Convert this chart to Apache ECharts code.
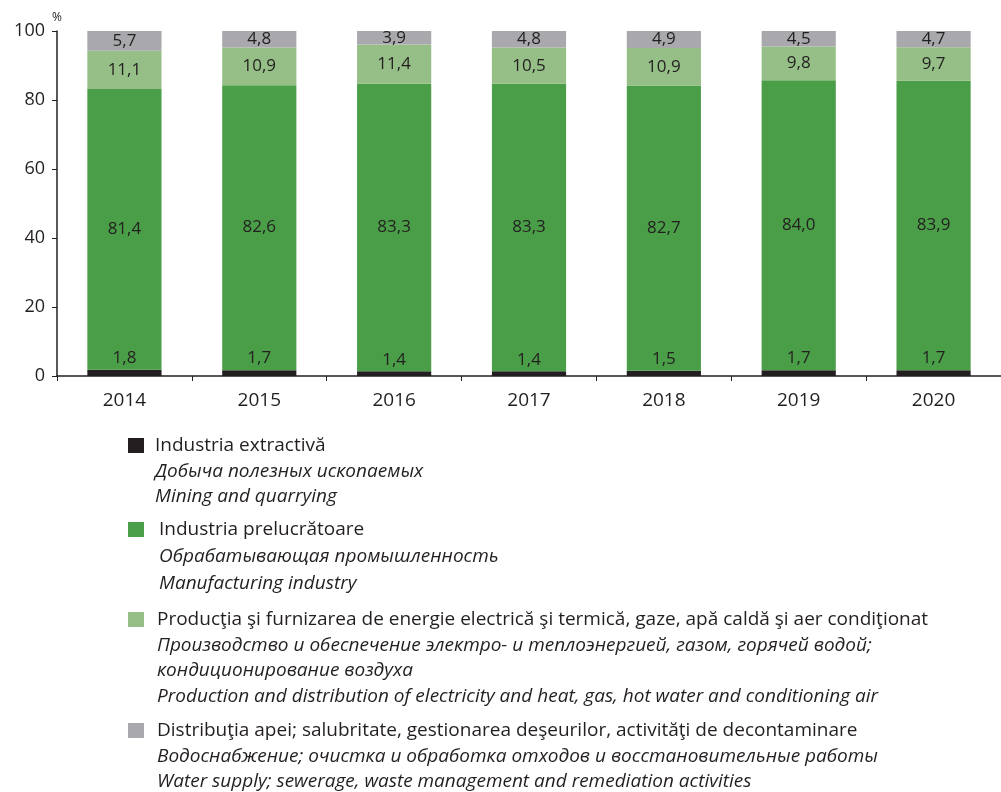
<!DOCTYPE html>
<html>
<head>
<meta charset="utf-8">
<script src="https://cdn.jsdelivr.net/npm/echarts@6/dist/echarts.min.js"></script>
<style>
  html, body { margin: 0; padding: 0; background: #fff; }
  #chart { width: 1001px; height: 792px; }
</style>
</head>
<body>
<div id="chart"></div>
<script>
const years = ['2014', '2015', '2016', '2017', '2018', '2019', '2020'];
const mining = [1.8, 1.7, 1.4, 1.4, 1.5, 1.7, 1.7];
const manufacturing = [81.4, 82.6, 83.3, 83.3, 82.7, 84.0, 83.9];
const energy = [11.1, 10.9, 11.4, 10.5, 10.9, 9.8, 9.7];
const water = [5.7, 4.8, 3.9, 4.8, 4.9, 4.5, 4.7];

const legendLines = [
  ['Industria extractivă', 'Добыча полезных ископаемых', 'Mining and quarrying'],
  ['Industria prelucrătoare', 'Обрабатывающая промышленность', 'Manufacturing industry'],
  ['Producţia şi furnizarea de energie electrică şi termică, gaze, apă caldă şi aer condiţionat',
   'Производство и обеспечение электро- и теплоэнергией, газом, горячей водой;',
   'кондиционирование воздуха',
   'Production and distribution of electricity and heat, gas, hot water and conditioning air'],
  ['Distribuţia apei; salubritate, gestionarea deşeurilor, activităţi de decontaminare',
   'Водоснабжение; очистка и обработка отходов и восстановительные работы',
   'Water supply; sewerage, waste management and remediation activities']
];

const colors = ['#231f20', '#4a9e47', '#95bf86', '#a8a8ad'];
const font = '"Open Sans", "Noto Sans", sans-serif';
const fmt = p => p.value.toFixed(1).replace('.', ',');

const chart = echarts.init(document.getElementById('chart'));

// legend built by hand: square + lines of text
const legendTop = [446, 530, 620, 731];
const legendX = [155, 159, 157, 157];
const lineGap = [25.5, 27, 25.5, 25.5];
const graphic = [];
legendLines.forEach((lines, i) => {
  graphic.push({
    type: 'rect',
    shape: { x: 128, y: legendTop[i] - 8, width: 16, height: 15 },
    style: { fill: colors[i] }
  });
  lines.forEach((t, j) => {
    graphic.push({
      type: 'text',
      x: legendX[i], y: legendTop[i] + j * lineGap[i],
      style: {
        text: t,
        font: (j === 0 ? 'normal ' : 'italic ') + '19px ' + font,
        fill: '#231f20',
        verticalAlign: 'middle'
      }
    });
  });
});
graphic.push({
  type: 'text', x: 52, y: 18,
  style: { text: '%', font: '12px ' + font, fill: '#231f20', verticalAlign: 'middle' }
});

const barLabel = {
  show: true,
  position: 'inside',
  color: '#231f20',
  fontSize: 17,
  fontFamily: font,
  formatter: fmt
};

const option = {
  backgroundColor: '#fff',
  animation: false,
  grid: { left: 57, right: 0, top: 31, bottom: 416 },
  xAxis: {
    type: 'category',
    data: years,
    axisLine: { lineStyle: { color: '#231f20', width: 1.5 } },
    axisTick: { show: true, length: 5, inside: false, lineStyle: { color: '#231f20' } },
    axisLabel: { color: '#231f20', fontSize: 19, fontFamily: font, margin: 15 }
  },
  yAxis: {
    type: 'value',
    min: 0, max: 100, interval: 20,
    splitLine: { show: false },
    axisLine: { show: true, lineStyle: { color: '#231f20', width: 1.5 } },
    axisTick: { show: true, length: 5, lineStyle: { color: '#231f20' } },
    axisLabel: { color: '#231f20', fontSize: 18, fontFamily: font, margin: 12 }
  },
  series: [
    {
      name: legendLines[0][0], type: 'bar', stack: 'a', data: mining,
      barWidth: '55%', itemStyle: { color: colors[0] },
      label: Object.assign({}, barLabel, { position: 'top', distance: 3 })
    },
    {
      name: legendLines[1][0], type: 'bar', stack: 'a', data: manufacturing,
      itemStyle: { color: colors[1] }, label: barLabel
    },
    {
      name: legendLines[2][0], type: 'bar', stack: 'a', data: energy,
      itemStyle: { color: colors[2] }, label: barLabel
    },
    {
      name: legendLines[3][0], type: 'bar', stack: 'a', data: water,
      itemStyle: { color: colors[3] }, label: barLabel
    }
  ],
  graphic: graphic
};

chart.setOption(option);
</script>
</body>
</html>
